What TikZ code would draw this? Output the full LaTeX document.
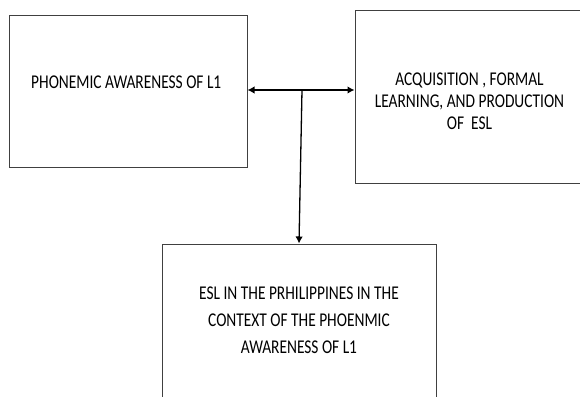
\documentclass[tikz,border=0pt]{standalone}
\usepackage{fontspec}
\setmainfont{Carlito}[FakeStretch=0.79]
\usetikzlibrary{arrows.meta}

\begin{document}
\begin{tikzpicture}[x=1pt, y=-1pt,
	box/.style={draw=black!75, line width=1pt, inner sep=0pt, align=center,
		font=\fontsize{19.5}{22}\selectfont},
	>={Latex[length=7pt,width=7.5pt]}]
	\useasboundingbox (0,0) rectangle (580,396);
	\clip (0,0) rectangle (580,396);
	% draw rectangle node
	\node[box,
	minimum width=238pt,
	text height=72pt,
	text depth=79pt] (block1) at (128,91.5) {
	PHONEMIC AWARENESS OF L1
	};
	\node[box,
	minimum width=229pt,
	text height=118pt,
	text depth=54pt] (block2) at (469.5,97) {
	ACQUISITION , FORMAL\\LEARNING, AND PRODUCTION\\OF~~ESL
	};
	\node[box,
	minimum width=274pt,
	minimum height=153pt,
	font=\fontsize{19.5}{27}\selectfont] (block3) at (299,320.5) {
	ESL IN THE PRHILIPPINES IN THE\\CONTEXT OF THE PHOENMIC\\AWARENESS OF L1
	};
	% Arrows
	\coordinate (join) at (302,90);
	\draw[<->, line width=1.3pt] (block1.east |- join) -- (block2.west |- join);
	\draw[->, line width=1.3pt] (join) -- (block3.north);
\end{tikzpicture}
\end{document}
